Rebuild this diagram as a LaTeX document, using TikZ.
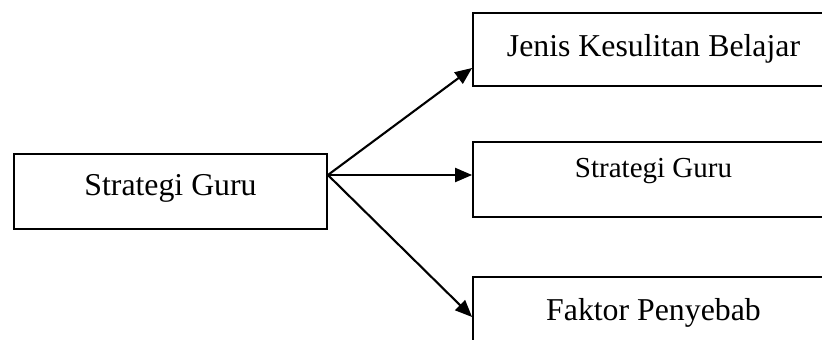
\documentclass[tikz,border=0pt]{standalone}
\usepackage{fontspec}
\setmainfont{Liberation Serif}
\usetikzlibrary{arrows.meta}
\begin{document}
\begin{tikzpicture}[x=1pt,y=-1pt,
  box/.style={draw=black, line width=1.8pt, fill=none, inner sep=0pt},
  lbl/.style={anchor=base, inner sep=0pt, font=\fontsize{31.8}{38}\selectfont},
  lblsmall/.style={anchor=base, inner sep=0pt, font=\fontsize{29}{35}\selectfont},
  arr/.style={line width=2.1pt, -{Triangle[length=17pt,width=14pt]}}]
\useasboundingbox (0,0) rectangle (822,340);
\clip (0,0) rectangle (822,340);

% source box
\node[box, minimum width=313pt, minimum height=75pt] (src) at (170.5,191.5) {};
\node[lbl] (srcl) at (170.5,195) {Strategi Guru};

% target boxes (running past the right edge)
\node[box, minimum width=361pt, minimum height=73pt] (b1) at (653.5,49.5) {};
\node[lbl] (b1l) at (653.5,56) {Jenis Kesulitan Belajar};

\node[box, minimum width=361pt, minimum height=75pt] (b2) at (653.5,179.5) {};
\node[lblsmall] (b2l) at (653.5,177) {Strategi Guru};

\node[box, minimum width=361pt, minimum height=75pt] (b3) at (653.5,314.5) {};
\node[lbl] (b3l) at (653.5,320) {Faktor Penyebab};

% fan of arrows from one point on the source box
\coordinate (hub) at ([yshift=16.5pt]src.east);
\draw[arr] (hub) -- ([yshift=-18.5pt]b1.west);
\draw[arr] (hub) -- ([yshift=4.5pt]b2.west);
\draw[arr] (hub) -- ([yshift=-2.5pt]b3.west);
\end{tikzpicture}
\end{document}
